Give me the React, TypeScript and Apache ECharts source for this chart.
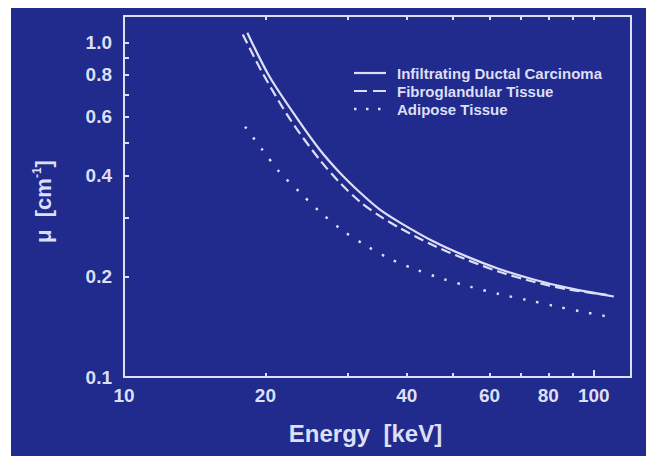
import React, { useEffect, useRef } from "react";
import * as echarts from "echarts";

const seriesNames = [
  "Infiltrating Ductal Carcinoma",
  "Fibroglandular Tissue",
  "Adipose Tissue",
];

const carcinomaEnergy = [18.3, 20.4, 23.3, 26.1, 28.8, 31.8, 35.0, 38.6, 45.4, 53.7, 63.1, 74.1, 87.6, 110.3];
const carcinomaMu = [1.07, 0.791, 0.596, 0.478, 0.408, 0.356, 0.317, 0.29, 0.255, 0.229, 0.21, 0.196, 0.185, 0.174];

const fibroEnergy = [17.9, 19.8, 22.6, 26.1, 28.8, 31.8, 35.0, 38.6, 45.4, 53.7, 63.1, 74.1, 87.6, 106.6];
const fibroMu = [1.057, 0.802, 0.588, 0.446, 0.381, 0.334, 0.303, 0.279, 0.248, 0.224, 0.206, 0.193, 0.183, 0.176];

const adiposeEnergy = [18.1, 19.7, 21.4, 23.7, 26.1, 29.1, 32.6, 36.8, 42.0, 47.7, 54.7, 62.8, 72.0, 82.6, 94.8, 109.2];
const adiposeMu = [0.56, 0.478, 0.411, 0.356, 0.312, 0.275, 0.248, 0.2256, 0.209, 0.1965, 0.186, 0.177, 0.17, 0.163, 0.1565, 0.151];

const xTickValues = [20, 30, 40, 50, 60, 70, 80, 90, 100];
const xMajorTickValues = [100];
const xLabelValues = [10, 20, 40, 60, 80, 100];
const yTickValues = [0.2, 0.3, 0.4, 0.5, 0.6, 0.7, 0.8, 0.9, 1.0];
const yLabelValues = [0.1, 0.2, 0.4, 0.6, 0.8, 1.0];

const BG = "#212a8d";
const FG = "#dcdff5";
const FONT = "'Liberation Sans', Arial, Helvetica, sans-serif";

const seriesDash: (number[] | null)[] = [null, [10, 5], [2.5, 11]];
const legendDash: (number[] | null)[] = [null, [13, 6], [2.5, 9.5]];

function pairs(xs: number[], ys: number[]) {
  return xs.map((x, i) => [x, ys[i]]);
}

export default function App() {
  const ref = useRef<HTMLDivElement>(null);
  useEffect(() => {
    if (!ref.current) return;
    const chart = echarts.init(ref.current, undefined, { renderer: "svg" });
    const baseX = {
      type: "log" as const,
      logBase: 10,
      min: 10,
      max: 120,
      splitLine: { show: false },
      axisLine: { show: true, lineStyle: { color: FG, width: 2 } },
    };
    const baseY = {
      type: "log" as const,
      logBase: 10,
      min: 0.1,
      max: 1.2,
      splitLine: { show: false },
      axisLine: { show: true, lineStyle: { color: FG, width: 2 } },
    };
    const legendLeft = 354;
    const legendTop = 73;
    const legendStep = 18;
    const legendGraphics: any[] = [];
    seriesNames.forEach((name, i) => {
      const y = legendTop + i * legendStep;
      legendGraphics.push({
        type: "line",
        silent: true,
        shape: { x1: legendLeft, y1: y, x2: i === 2 ? legendLeft + 27 : legendLeft + 32, y2: y },
        style: {
          stroke: FG,
          lineWidth: i === 2 ? 2.5 : 2.2,
          lineDash: legendDash[i] || undefined,
        },
      });
      legendGraphics.push({
        type: "text",
        silent: true,
        x: 397,
        y,
        style: {
          text: name,
          fill: FG,
          font: `bold 15px ${FONT}`,
          verticalAlign: "middle",
          align: "left",
        },
      });
    });
    chart.setOption({
      animation: false,
      backgroundColor: "#ffffff",
      graphic: [
        {
          type: "rect",
          z: -10,
          silent: true,
          shape: { x: 11, y: 8, width: 635, height: 448 },
          style: { fill: BG },
        },
        ...legendGraphics,
      ],
      grid: {
        left: 124,
        right: 15,
        top: 16,
        bottom: 79,
        show: true,
        borderColor: FG,
        borderWidth: 2,
        backgroundColor: "transparent",
      },
      xAxis: [
        {
          ...baseX,
          position: "bottom",
          name: "Energy  [keV]",
          nameLocation: "middle",
          nameGap: 44,
          nameTextStyle: {
            color: FG,
            fontSize: 24,
            fontWeight: "bold",
            fontFamily: FONT,
            padding: [0, 24, 0, 0],
          },
          axisTick: {
            show: true,
            inside: true,
            length: 4,
            customValues: xTickValues,
            lineStyle: { color: FG, width: 2 },
          },
          axisLabel: {
            show: true,
            customValues: xLabelValues,
            color: FG,
            fontSize: 19,
            fontWeight: "bold",
            fontFamily: FONT,
            margin: 9,
            formatter: (v: number) => String(Math.round(v)),
          },
        },
        {
          ...baseX,
          position: "top",
          axisTick: {
            show: true,
            inside: true,
            length: 4,
            customValues: xTickValues,
            lineStyle: { color: FG, width: 2 },
          },
          axisLabel: { show: false },
        },
        {
          ...baseX,
          position: "bottom",
          axisLine: { show: false },
          axisTick: {
            show: true,
            inside: true,
            length: 7,
            customValues: xMajorTickValues,
            lineStyle: { color: FG, width: 2 },
          },
          axisLabel: { show: false },
        },
      ],
      yAxis: [
        {
          ...baseY,
          position: "left",
          name: "{a|μ  [cm}{s|-1}{a|]}",
          nameLocation: "middle",
          nameRotate: 90,
          nameGap: 69,
          nameTextStyle: {
            color: FG,
            padding: [0, 10, 0, 0],
            rich: {
              a: { color: FG, fontSize: 22, fontWeight: "bold", fontFamily: FONT, lineHeight: 24 },
              s: { color: FG, fontSize: 12, fontWeight: "bold", fontFamily: FONT, lineHeight: 24, verticalAlign: "top" },
            },
          },
          axisTick: {
            show: true,
            inside: true,
            length: 5,
            customValues: yTickValues,
            lineStyle: { color: FG, width: 2 },
          },
          axisLabel: {
            show: true,
            customValues: yLabelValues,
            color: FG,
            fontSize: 19,
            fontWeight: "bold",
            fontFamily: FONT,
            margin: 12,
            formatter: (v: number) => v.toFixed(1),
          },
        },
        {
          ...baseY,
          position: "right",
          axisTick: { show: false },
          axisLabel: { show: false },
        },
      ],
      series: [
        {
          name: seriesNames[0],
          type: "line",
          symbol: "none",
          smooth: 0.3,
          data: pairs(carcinomaEnergy, carcinomaMu),
          itemStyle: { color: FG },
          lineStyle: { color: FG, width: 2.2, type: "solid" },
        },
        {
          name: seriesNames[1],
          type: "line",
          symbol: "none",
          smooth: 0.3,
          data: pairs(fibroEnergy, fibroMu),
          itemStyle: { color: FG },
          lineStyle: { color: FG, width: 2.2, type: seriesDash[1] },
        },
        {
          name: seriesNames[2],
          type: "line",
          symbol: "none",
          smooth: 0.3,
          data: pairs(adiposeEnergy, adiposeMu),
          itemStyle: { color: FG },
          lineStyle: { color: FG, width: 2.5, type: seriesDash[2] },
        },
      ],
    });
    return () => chart.dispose();
  }, []);
  return (
    <div
      ref={ref}
      style={{ position: "fixed", left: 0, top: 0, width: 646, height: 456 }}
    />
  );
}
